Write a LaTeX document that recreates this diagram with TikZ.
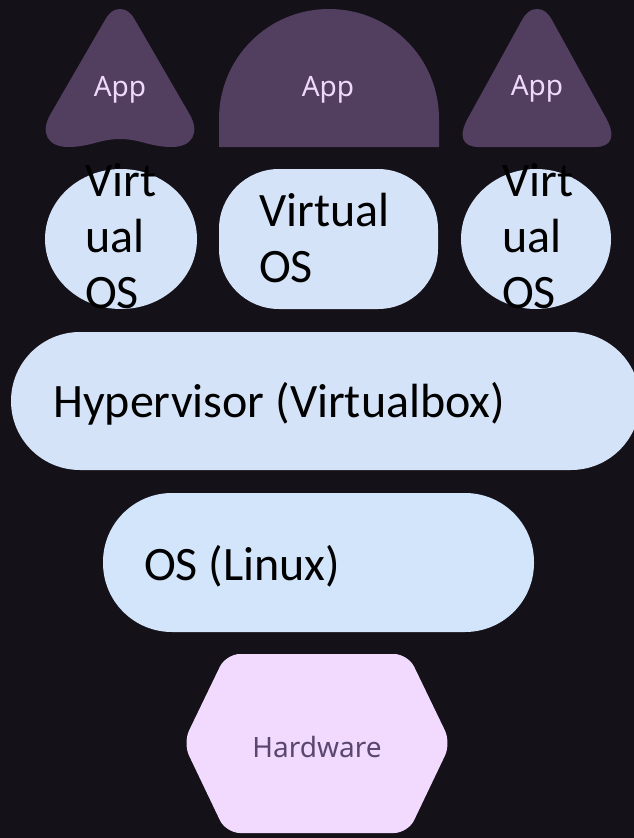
\documentclass[tikz,border=0pt]{standalone}
\usepackage{fontspec}
\setmainfont{Carlito}
\newfontfamily\uifont{Noto Sans}
\usepackage{xcolor}
\usetikzlibrary{positioning}

\definecolor{bgdark}{HTML}{141118}
\definecolor{appfill}{HTML}{523F5F}
\definecolor{apptext}{HTML}{F0D8F8}
\definecolor{osfill}{HTML}{D5E3F8}
\definecolor{hostfill}{HTML}{D3E5FB}
\definecolor{hwfill}{HTML}{F2DAFE}
\definecolor{hwtext}{HTML}{5B4670}

\begin{document}
\begin{tikzpicture}[
            x=1pt, y=-1pt,
            applabel/.style={text=apptext, font=\uifont\fontsize{28}{32}\selectfont, inner sep=0, anchor=base},
            oslabel/.style={text=black, font=\fontsize{48}{56}\selectfont, align=left, inner sep=0, anchor=base west},
            layer/.style={fill=osfill, draw=none}
        ]
            % Background
            \fill[bgdark] (0,0) rectangle (634,838);
            \useasboundingbox (0,0) rectangle (634,838);

            % Apps
            \fill[appfill] (120,9) .. controls (127,9) and (131,13) .. (135,20) -- (190,115)
                .. controls (200,133) and (192,147) .. (172,147)
                .. controls (150,147) and (140,139) .. (120,139)
                .. controls (100,139) and (90,147) .. (68,147)
                .. controls (48,147) and (40,133) .. (50,115) -- (105,20)
                .. controls (109,13) and (113,9) .. (120,9) -- cycle;
            \fill[appfill] (219,147) -- (219,119) .. controls (219,58) and (268,9) .. (329,9)
                .. controls (390,9) and (439,58) .. (439,119) -- (439,147) -- cycle;
            \fill[appfill] (537,9) .. controls (544,9) and (548,13) .. (552,20) -- (606,118)
                .. controls (616,136) and (612,147) .. (595,147) -- (479,147)
                .. controls (462,147) and (458,136) .. (468,118) -- (522,20)
                .. controls (526,13) and (530,9) .. (537,9) -- cycle;
            \node[applabel] (app1) at (120,96) {App};
            \node[applabel] (app2) at (328,96) {App};
            \node[applabel] (app3) at (537,95) {App};

            % Virtual OS (base = last line)
            \fill[layer] (121,239) ellipse [x radius=76, y radius=70];
            \fill[layer, rounded corners=60pt] (219,169) rectangle (438,309);
            \fill[layer] (536,239) ellipse [x radius=75, y radius=70];
            \node[oslabel] (vos1) at (85,308) {Virt\\ual\\OS};
            \node[oslabel] (vos2) at (259,282) {Virtual\\OS};
            \node[oslabel] (vos3) at (502,308) {Virt\\ual\\OS};

            % Hypervisor and host OS
            \fill[layer, rounded corners=69pt] (11,332) rectangle (640,470);
            \node[oslabel] (hyper) at (53,417) {Hypervisor (Virtualbox)};
            \fill[hostfill, rounded corners=69pt] (103,493) rectangle (534,632);
            \node[oslabel] (host) at (144,580) {OS (Linux)};

            % Hardware
            \fill[hwfill, rounded corners=14pt] (226,654) -- (408,654) -- (451,743)
                -- (408,833) -- (226,833) -- (183,743) -- cycle;
            \node[applabel, text=hwtext] (hw) at (317,757) {Hardware};
        \end{tikzpicture}
\end{document}
